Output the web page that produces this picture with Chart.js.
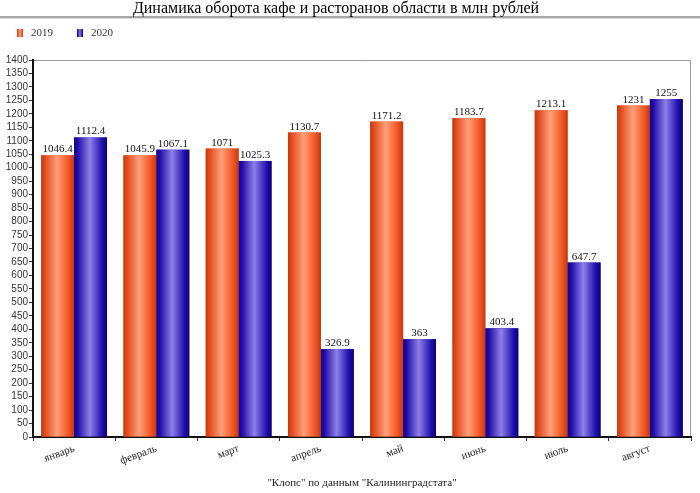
<!DOCTYPE html>
<html>
<head>
<meta charset="utf-8">
<script src="https://cdn.jsdelivr.net/npm/chart.js@4"></script>
<style>
html,body{margin:0;padding:0;background:#fff;}
#wrap{width:700px;height:493px;position:relative;}
</style>
</head>
<body>
<div id="wrap"><canvas id="c" width="700" height="493"></canvas></div>
<script>
const titleText = 'Динамика оборота кафе и расторанов области в млн рублей';
const sourceText = '"Клопс" по данным "Калининградстата"';
const months = ['январь','февраль','март','апрель','май','июнь','июль','август'];
const seriesNames = ['2019','2020'];
const values2019 = [1046.4, 1045.9, 1071, 1130.7, 1171.2, 1183.7, 1213.1, 1231];
const values2020 = [1112.4, 1067.1, 1025.3, 326.9, 363, 403.4, 647.7, 1255];
const labels2019 = ['1046.4','1045.9','1071','1130.7','1171.2','1183.7','1213.1','1231'];
const labels2020 = ['1112.4','1067.1','1025.3','326.9','363','403.4','647.7','1255'];
const yMin = 0, yMax = 1400, yStep = 50;

const palettes = [
  {base:'#ee5626', stops:[[0,'#c43810'],[0.1,'#e0481a'],[0.48,'#ffa07a'],[0.6,'#ff8458'],[0.85,'#ec5222'],[1,'#c43810']]},
  {base:'#2410b0', stops:[[0,'#12008a'],[0.1,'#1e0aa6'],[0.48,'#8e80e8'],[0.6,'#6a5ad6'],[0.85,'#2010ae'],[1,'#0e0070']]}
];

function makeGrad(ctx, x0, x1, pal){
  const g = ctx.createLinearGradient(x0,0,x1,0);
  pal.stops.forEach(s=>g.addColorStop(s[0],s[1]));
  return g;
}

const decor = {
  id:'decor',
  beforeDraw(chart){
    const ctx = chart.ctx;
    ctx.save();
    ctx.fillStyle='#fff';
    ctx.fillRect(0,0,chart.width,chart.height);
    ctx.fillStyle='#a8a8a8';
    ctx.fillRect(0,16,chart.width,2);
    ctx.fillStyle='#dcdcdc';
    ctx.fillRect(0,18,chart.width,1);
    ctx.fillStyle='#000';
    ctx.font='16px "Liberation Serif", "DejaVu Serif", serif';
    ctx.textAlign='center';
    ctx.textBaseline='middle';
    ctx.fillText(titleText, 336, 9);
    ctx.font='11px "Liberation Serif", serif';
    ctx.textAlign='left';
    ctx.textBaseline='middle';
    const lx=[17,77];
    seriesNames.forEach((n,i)=>{
      ctx.fillStyle = makeGrad(ctx, lx[i], lx[i]+6, palettes[i]);
      ctx.fillRect(lx[i],29,6,8);
      ctx.fillStyle='#333';
      ctx.fillText(n, lx[i]+14, 33);
    });
    const a = chart.chartArea;
    ctx.fillStyle='#222';
    ctx.textAlign='center';
    ctx.textBaseline='middle';
    ctx.fillText(sourceText, (a.left+a.right)/2, 483);
    ctx.strokeStyle='#9a9a9a';
    ctx.lineWidth=1;
    ctx.beginPath();
    ctx.moveTo(a.left, a.top+0.5);
    ctx.lineTo(a.right-0.5, a.top+0.5);
    ctx.lineTo(a.right-0.5, a.bottom);
    ctx.stroke();
    ctx.restore();
  },
  afterDatasetsDraw(chart){
    const ctx = chart.ctx;
    ctx.save();
    chart.data.datasets.forEach((ds,di)=>{
      const meta = chart.getDatasetMeta(di);
      meta.data.forEach((bar)=>{
        const p = bar.getProps(['x','y','base','width'], true);
        const x0 = p.x - p.width/2, x1 = p.x + p.width/2;
        ctx.fillStyle = makeGrad(ctx, x0, x1, palettes[di]);
        ctx.fillRect(x0, p.y, p.width, p.base - p.y);
      });
    });
    ctx.fillStyle='#111';
    ctx.font='11px "Liberation Serif", serif';
    ctx.textAlign='center';
    ctx.textBaseline='alphabetic';
    const lbls=[labels2019, labels2020];
    chart.data.datasets.forEach((ds,di)=>{
      const meta = chart.getDatasetMeta(di);
      meta.data.forEach((bar,i)=>{
        const p = bar.getProps(['x','y'], true);
        ctx.fillText(lbls[di][i], p.x, p.y - 3);
      });
    });
    ctx.restore();
  }
};

new Chart(document.getElementById('c'), {
  type:'bar',
  data:{
    labels: months,
    datasets:[
      {label:seriesNames[0], data:values2019, backgroundColor:palettes[0].base, categoryPercentage:0.8, barPercentage:1.0},
      {label:seriesNames[1], data:values2020, backgroundColor:palettes[1].base, categoryPercentage:0.8, barPercentage:1.0}
    ]
  },
  options:{
    responsive:false,
    animation:false,
    devicePixelRatio:1,
    layout:{padding:{top:60,right:9,left:0,bottom:0}},
    plugins:{legend:{display:false}, title:{display:false}, tooltip:{enabled:false}},
    scales:{
      x:{
        grid:{display:true, drawOnChartArea:false, drawTicks:true, tickLength:4, color:'#333', offset:true},
        border:{display:true, color:'#111', width:2},
        ticks:{autoSkip:false, minRotation:20, maxRotation:20, padding:1, color:'#222',
               font:{family:'"Liberation Serif", serif', size:11}},
        afterFit(s){ s.height = 56; }
      },
      y:{
        min:yMin, max:yMax,
        grid:{display:true, drawOnChartArea:false, drawTicks:true, tickLength:4, color:'#333'},
        border:{display:true, color:'#111', width:2},
        ticks:{stepSize:yStep, autoSkip:false, padding:1, color:'#333',
               font:{family:'"Liberation Sans", Arial, sans-serif', size:10},
               callback:(v)=>String(v)},
        afterFit(s){ s.width = 33; }
      }
    }
  },
  plugins:[decor]
});
</script>
</body>
</html>
